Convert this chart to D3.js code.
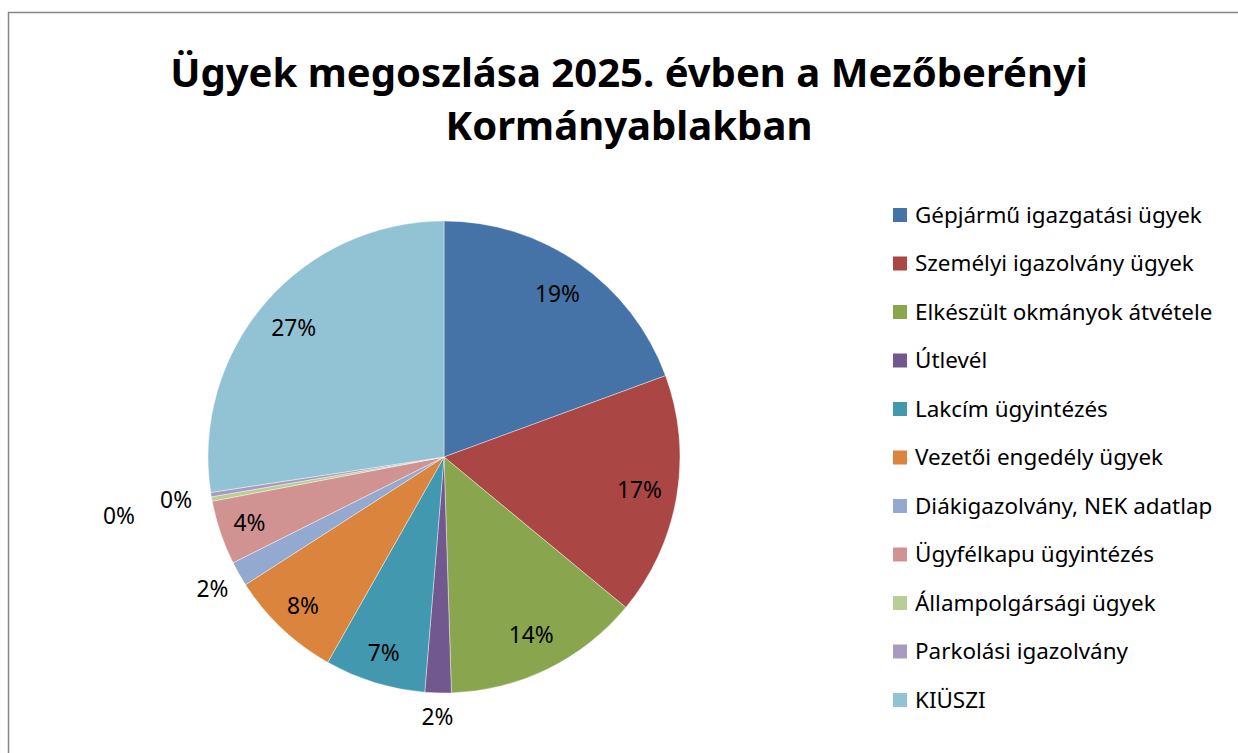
<!DOCTYPE html>
<meta charset='utf-8'>
<head>
    <title>Ügyek megoszlása</title>
    <script src='https://cdn.jsdelivr.net/npm/d3@7/dist/d3.min.js'></script>
</head>

<style>
    body { margin: 0; background: #fff; }
    text { font-family: 'Noto Sans', 'Open Sans', sans-serif; fill: #000; }
    .title { font-weight: bold; }
</style>

<svg></svg>

<script>
    var vWidth = 1238;
    var vHeight = 753;

    // Data (share in %)
    var categories = ['Gépjármű igazgatási ügyek', 'Személyi igazolvány ügyek', 'Elkészült okmányok átvétele',
        'Útlevél', 'Lakcím ügyintézés', 'Vezetői engedély ügyek', 'Diákigazolvány, NEK adatlap',
        'Ügyfélkapu ügyintézés', 'Állampolgársági ügyek', 'Parkolási igazolvány', 'KIÜSZI'];
    var values = [19.4, 16.6, 13.5, 1.8, 6.9, 7.7, 1.7, 4.4, 0.3, 0.3, 27.4];
    var colors = ['#4572A7', '#AA4643', '#89A54E', '#71588F', '#4198AF', '#DB843D',
        '#93A9CF', '#D19392', '#B9CD96', '#A99BBD', '#92C3D4'];
    var titleLines = ['Ügyek megoszlása 2025. évben a Mezőberényi', 'Kormányablakban'];
    // label distance from centre, as a share of the radius
    var labelRadius = [0.84, 0.84, 0.84, 1.1, 0.87, 0.87, 1.13, 0.87, 1.4, 1.15, 0.84];

    var svg = d3.select('svg').attr('width', vWidth).attr('height', vHeight);

    // outer frame
    svg.append('path')
        .attr('d', 'M8.5,' + vHeight + 'V12.5H' + vWidth)
        .attr('fill', 'none').attr('stroke', '#868686').attr('stroke-width', 1.5);

    // fit a text element's font size so it spans a given width
    function fitFont(sel, target, start) {
        sel.style('font-size', start + 'px');
        var w = sel.node().getComputedTextLength();
        var s = start * target / w;
        sel.style('font-size', s + 'px');
        return s;
    }

    // Title
    var t1 = svg.append('text').attr('class', 'title').attr('x', 629).attr('y', 87)
        .attr('text-anchor', 'middle').text(titleLines[0]);
    var ts = fitFont(t1, 918, 40);
    svg.append('text').attr('class', 'title').attr('x', 629).attr('y', 140)
        .attr('text-anchor', 'middle').style('font-size', ts + 'px').text(titleLines[1]);

    // Pie
    var cx = 444, cy = 457, R = 236;
    var total = d3.sum(values);
    var pie = d3.pie().sort(null).value(function (d) { return d; });
    var arcs = pie(values);
    var arc = d3.arc().innerRadius(0).outerRadius(R);
    var gPie = svg.append('g').attr('transform', 'translate(' + cx + ',' + cy + ')');

    gPie.selectAll('path').data(arcs).enter().append('path')
        .attr('d', arc)
        .attr('fill', function (d, i) { return colors[i]; })
        .attr('stroke', '#fff').attr('stroke-width', 0.4);

    var labels = gPie.selectAll('text.lbl').data(arcs).enter().append('text')
        .attr('class', 'lbl')
        .attr('text-anchor', 'middle')
        .attr('dy', '0.35em')
        .attr('transform', function (d, i) {
            var a = (d.startAngle + d.endAngle) / 2;
            var r = R * labelRadius[i];
            return 'translate(' + (Math.sin(a) * r) + ',' + (-Math.cos(a) * r) + ')';
        })
        .text(function (d) { return Math.round(d.value / total * 100) + '%'; });
    var ls = fitFont(d3.select(labels.nodes()[0]), 45, 20);
    labels.style('font-size', ls + 'px');

    // Legend
    var gLeg = svg.append('g').attr('transform', 'translate(893,215)');
    var rows = gLeg.selectAll('g').data(categories).enter().append('g')
        .attr('transform', function (d, i) { return 'translate(0,' + (i * 48.5) + ')'; });
    rows.append('rect').attr('x', 0).attr('y', -7).attr('width', 14).attr('height', 14)
        .attr('fill', function (d, i) { return colors[i]; });
    var legTexts = rows.append('text').attr('x', 22).attr('dy', '0.35em')
        .text(function (d) { return d; });
    var fs = fitFont(d3.select(legTexts.nodes()[0]), 287, 20);
    legTexts.style('font-size', fs + 'px');
</script>
